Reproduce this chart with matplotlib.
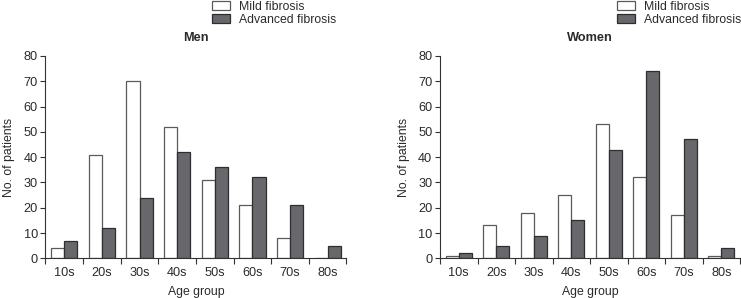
import matplotlib
matplotlib.use("Agg")
import matplotlib.pyplot as plt
import numpy as np

age_groups = ["10s", "20s", "30s", "40s", "50s", "60s", "70s", "80s"]
men_mild = [4, 41, 70, 52, 31, 21, 8, 0]
men_advanced = [7, 12, 24, 42, 36, 32, 21, 5]
women_mild = [1, 13, 18, 25, 53, 32, 17, 1]
women_advanced = [2, 5, 9, 15, 43, 74, 47, 4]

plt.rcParams['font.family'] = ['Liberation Sans', 'DejaVu Sans']
FS = 8.8
TXT = '#2a2a2a'
DARK = '#68686c'
EDGE_D = '#2e2e2e'
EDGE_M = '#5a5a5a'

fig = plt.figure(figsize=(7.41, 2.98), dpi=100)

def panel(rect, mild, adv, title, leg_x):
    ax = fig.add_axes(rect)
    x = np.arange(len(age_groups))
    w = 0.35
    b1 = ax.bar(x - w / 2, mild, w, color='white', edgecolor=EDGE_M, linewidth=0.9,
                label='Mild fibrosis')
    b2 = ax.bar(x + w / 2, adv, w, color=DARK, edgecolor=EDGE_D, linewidth=0.9,
                label='Advanced fibrosis')
    ax.set_xlim(-0.5, len(age_groups) - 0.5)
    ax.set_ylim(0, 80)
    ax.set_yticks(range(0, 81, 10))
    ax.set_xticks(np.arange(-0.5, len(age_groups), 1.0))
    ax.set_xticklabels([])
    ax.set_xticks(x, minor=True)
    ax.set_xticklabels(age_groups, minor=True)
    ax.tick_params(axis='x', which='major', direction='out', length=4, width=0.8, color='#333333')
    ax.tick_params(axis='x', which='minor', length=0, pad=6, labelsize=FS + 0.4, labelcolor=TXT)
    ax.tick_params(axis='y', direction='out', length=3.5, width=0.8, color='#333333', pad=2,
                   labelsize=FS + 0.4, labelcolor=TXT)
    for s in ['top', 'right']:
        ax.spines[s].set_visible(False)
    for s in ['left', 'bottom']:
        ax.spines[s].set_color('#333333')
        ax.spines[s].set_linewidth(0.8)
    ax.set_title(title, fontsize=FS + 0.4, fontweight='bold', color=TXT, pad=11)
    ax.set_xlabel('Age group', fontsize=FS, color=TXT, labelpad=5)
    ax.set_ylabel('No. of patients', fontsize=FS, color=TXT, labelpad=6)
    fig.legend(handles=[b1, b2], loc='upper left', bbox_to_anchor=(leg_x, 0.998),
               bbox_transform=fig.transFigure, frameon=False, fontsize=FS,
               handlelength=1.45, handleheight=0.8, handletextpad=0.8,
               labelspacing=0.12, borderpad=0, borderaxespad=0, labelcolor=TXT)
    return ax

panel([0.0614, 0.1332, 0.4062, 0.679], men_mild, men_advanced, 'Men', 212 / 741)
panel([0.5938, 0.1332, 0.4049, 0.679], women_mild, women_advanced, 'Women', 617 / 741)

fig.savefig('out.png', dpi=100)
